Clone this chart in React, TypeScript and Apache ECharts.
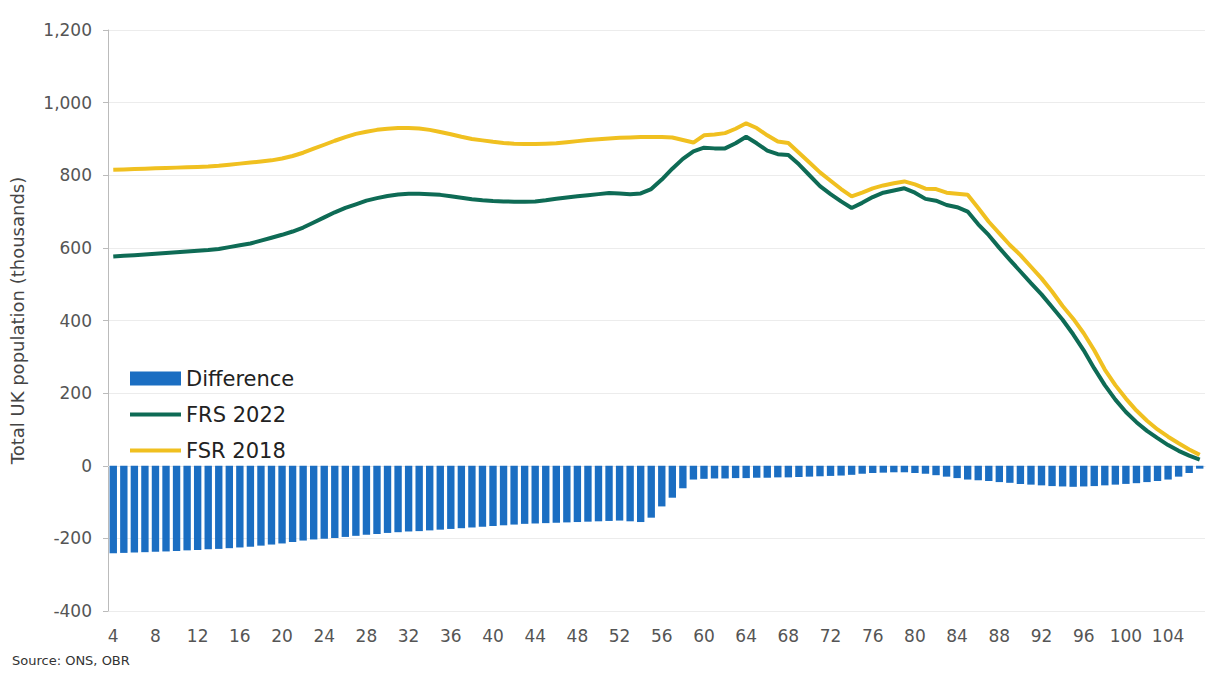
import React, { useEffect, useRef } from "react";
import * as echarts from "echarts";

const ages: number[] = [];
for (let a = 4; a <= 107; a++) ages.push(a);
const ageLabels = ages.map(String);

// FSR 2018 (thousands), ages 4..107
const fsr2018: number[] = [
  815, 816, 817, 818, 819, 820, 821, 822, 823, 824,
  826, 829, 832, 835, 838, 841, 846, 853, 862, 873,
  884, 895, 905, 914, 920, 925, 928, 930, 930, 929,
  925, 919, 913, 906, 900, 896, 892, 889, 887, 886,
  886, 887, 888, 891, 894, 897, 899, 901, 903, 904,
  905, 905, 905, 904, 897, 890, 910, 912, 916, 928,
  943, 930, 910, 893, 889, 862, 835, 808, 785, 762,
  742, 752, 764, 772, 778, 783, 775, 763, 762, 752,
  749, 746, 710, 672, 640, 608, 580, 548, 516, 480,
  440, 405, 365, 318, 265, 222, 185, 152, 124, 100,
  80, 62, 45, 30,
];

// FRS 2022 (thousands), ages 4..107
const frs2022: number[] = [
  576, 578, 580, 582, 584, 586, 588, 590, 592, 594,
  597, 602, 607, 612, 620, 628, 636, 645, 656, 670,
  684, 698, 710, 720, 730, 737, 743, 747, 749, 749,
  748, 746, 742, 738, 734, 731, 729, 728, 727, 727,
  728, 731, 735, 739, 742, 745, 748, 751, 750, 748,
  750, 762, 788, 818, 845, 866, 876, 874, 874, 888,
  906, 888, 868, 858, 856, 830, 800, 770, 748, 728,
  710, 724, 740, 752, 758, 764, 752, 735, 730, 718,
  712, 700, 665, 635, 600, 567, 535, 503, 472, 437,
  402, 362, 318, 268, 222, 182, 148, 120, 96, 76,
  57, 41, 28, 17,
];

// Difference (thousands), ages 4..107
const difference: number[] = [
  -241, -240, -239, -238, -237, -236, -235, -233, -232, -230,
  -229, -227, -225, -223, -220, -217, -214, -210, -206, -203,
  -201, -199, -196, -193, -190, -188, -185, -183, -181, -180,
  -178, -176, -174, -172, -170, -168, -166, -164, -162, -160,
  -159, -158, -157, -156, -155, -154, -153, -152, -151, -153,
  -155, -143, -112, -88, -62, -38, -36, -35, -35, -34,
  -34, -33, -33, -32, -32, -31, -30, -29, -28, -27,
  -25, -22, -20, -19, -18, -18, -20, -22, -26, -30,
  -34, -38, -40, -42, -45, -47, -50, -52, -54, -56,
  -57, -58, -57, -56, -54, -52, -50, -48, -45, -42,
  -38, -30, -20, -8,
];

const yTicks = { min: -400, max: 1200, interval: 200 };

const FONT = "'DejaVu Sans', sans-serif";
const LINE_ICON =
  "path://M0,0L0.01,0L0.01,0.01L0,0.01Z M0,5L51,5L51,9L0,9Z M0,13.99L0.01,13.99L0.01,14L0,14Z";

export default function App() {
  const ref = useRef<HTMLDivElement>(null);
  useEffect(() => {
    if (!ref.current) return;
    const chart = echarts.init(ref.current, undefined, { renderer: "svg" });
    chart.setOption({
      animation: false,
      backgroundColor: "#ffffff",
      textStyle: { fontFamily: FONT },
      grid: { left: 107, right: 3, top: 30, bottom: 62, containLabel: false },
      legend: {
        orient: "vertical",
        left: 125,
        top: 363,
        itemWidth: 51,
        itemHeight: 14,
        itemGap: 15,
        textStyle: { fontFamily: FONT, fontSize: 21, color: "#222" },
        data: [
          { name: "Difference", icon: "rect" },
          { name: "FRS 2022", icon: LINE_ICON },
          { name: "FSR 2018", icon: LINE_ICON },
        ],
      },
      xAxis: {
        type: "category",
        data: ageLabels,
        boundaryGap: true,
        axisLine: { show: true, lineStyle: { color: "#e6e6e6" } },
        axisTick: { show: false },
        axisLabel: {
          interval: 3,
          color: "#555",
          fontSize: 17,
          fontFamily: FONT,
          margin: 16,
        },
        splitLine: { show: false },
      },
      yAxis: {
        type: "value",
        min: yTicks.min,
        max: yTicks.max,
        interval: yTicks.interval,
        name: "Total UK population (thousands)",
        nameLocation: "middle",
        nameGap: 82,
        nameTextStyle: { fontSize: 18, color: "#444", fontFamily: FONT },
        axisLine: { show: true, lineStyle: { color: "#bbbbbb" } },
        axisTick: { show: true, length: 5, lineStyle: { color: "#bbbbbb" } },
        axisLabel: {
          color: "#555",
          fontSize: 17,
          fontFamily: FONT,
          margin: 16,
          formatter: (v: number) => v.toLocaleString("en-GB"),
        },
        splitLine: { show: true, lineStyle: { color: "#ececec", width: 1 } },
      },
      series: [
        {
          name: "Difference",
          type: "bar",
          data: difference,
          barCategoryGap: "30%",
          itemStyle: { color: "#1B6EC2" },
        },
        {
          name: "FRS 2022",
          type: "line",
          data: frs2022,
          symbol: "none",
          smooth: false,
          lineStyle: { color: "#0E6B55", width: 4 },
          itemStyle: { color: "#0E6B55" },
        },
        {
          name: "FSR 2018",
          type: "line",
          data: fsr2018,
          symbol: "none",
          smooth: false,
          lineStyle: { color: "#F0C020", width: 4 },
          itemStyle: { color: "#F0C020" },
        },
      ],
      graphic: [
        {
          type: "text",
          left: 12,
          top: 654,
          style: {
            text: "Source: ONS, OBR",
            fontSize: 13,
            fill: "#333",
            fontFamily: FONT,
          },
        },
      ],
    });
    return () => chart.dispose();
  }, []);
  return (
    <div
      ref={ref}
      style={{ position: "fixed", left: 0, top: 0, width: 1208, height: 673 }}
    />
  );
}
